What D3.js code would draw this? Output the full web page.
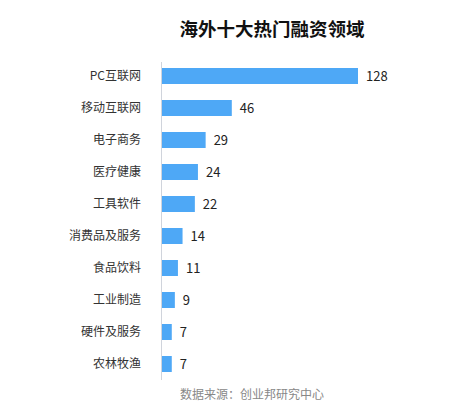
<!DOCTYPE html>
<html>
<head>
  <meta charset="utf-8">
  <style>
    body { margin: 0; background: #fff; font-family: 'Noto Sans CJK SC', sans-serif; }
    .cat { font-size: 12px; fill: #333; }
    .val { font-size: 13px; fill: #222; }
    .title { font-size: 18.5px; font-weight: bold; fill: #111; }
    .source { font-size: 12px; fill: #888; }
  </style>
</head>
<body>
  <div id="chart"></div>
  <script src="https://d3js.org/d3.v7.min.js"></script>
  <script>
    var categories = ['PC互联网', '移动互联网', '电子商务', '医疗健康', '工具软件', '消费品及服务', '食品饮料', '工业制造', '硬件及服务', '农林牧渔'];
    var values = [128, 46, 29, 24, 22, 14, 11, 9, 7, 7];

    var width = 454, height = 416;
    var left = 161;

    var svg = d3.select('#chart').append('svg')
      .attr('width', width)
      .attr('height', height);

    var x = d3.scaleLinear().domain([0, 128]).range([left, 358]);
    var y = d3.scaleBand().domain(categories).range([60, 380])
      .paddingInner(0.5)
      .paddingOuter(0.25);

    svg.append('text')
      .attr('class', 'title')
      .attr('x', 272)
      .attr('y', 36)
      .attr('text-anchor', 'middle')
      .text('海外十大热门融资领域');

    svg.selectAll('rect')
      .data(values)
      .enter().append('rect')
      .attr('x', left)
      .attr('y', function(d, i) { return y(categories[i]); })
      .attr('width', function(d) { return x(d) - left; })
      .attr('height', y.bandwidth())
      .style('fill', '#4ea8f6');

    svg.append('line')
      .attr('x1', left + 0.5).attr('x2', left + 0.5)
      .attr('y1', 62).attr('y2', 380)
      .style('stroke', '#d0d4dc')
      .style('stroke-width', 1);

    svg.selectAll('.cat')
      .data(categories)
      .enter().append('text')
      .attr('class', 'cat')
      .attr('x', 141)
      .attr('y', function(d) { return y(d) + y.bandwidth() / 2; })
      .attr('dy', '0.35em')
      .attr('text-anchor', 'end')
      .text(function(d) { return d; });

    svg.selectAll('.val')
      .data(values)
      .enter().append('text')
      .attr('class', 'val')
      .attr('x', function(d) { return x(d) + 8; })
      .attr('y', function(d, i) { return y(categories[i]) + y.bandwidth() / 2; })
      .attr('dy', '0.35em')
      .text(function(d) { return d; });

    svg.append('text')
      .attr('class', 'source')
      .attr('x', 252)
      .attr('y', 399)
      .attr('text-anchor', 'middle')
      .text('数据来源：创业邦研究中心');
  </script>
</body>
</html>
